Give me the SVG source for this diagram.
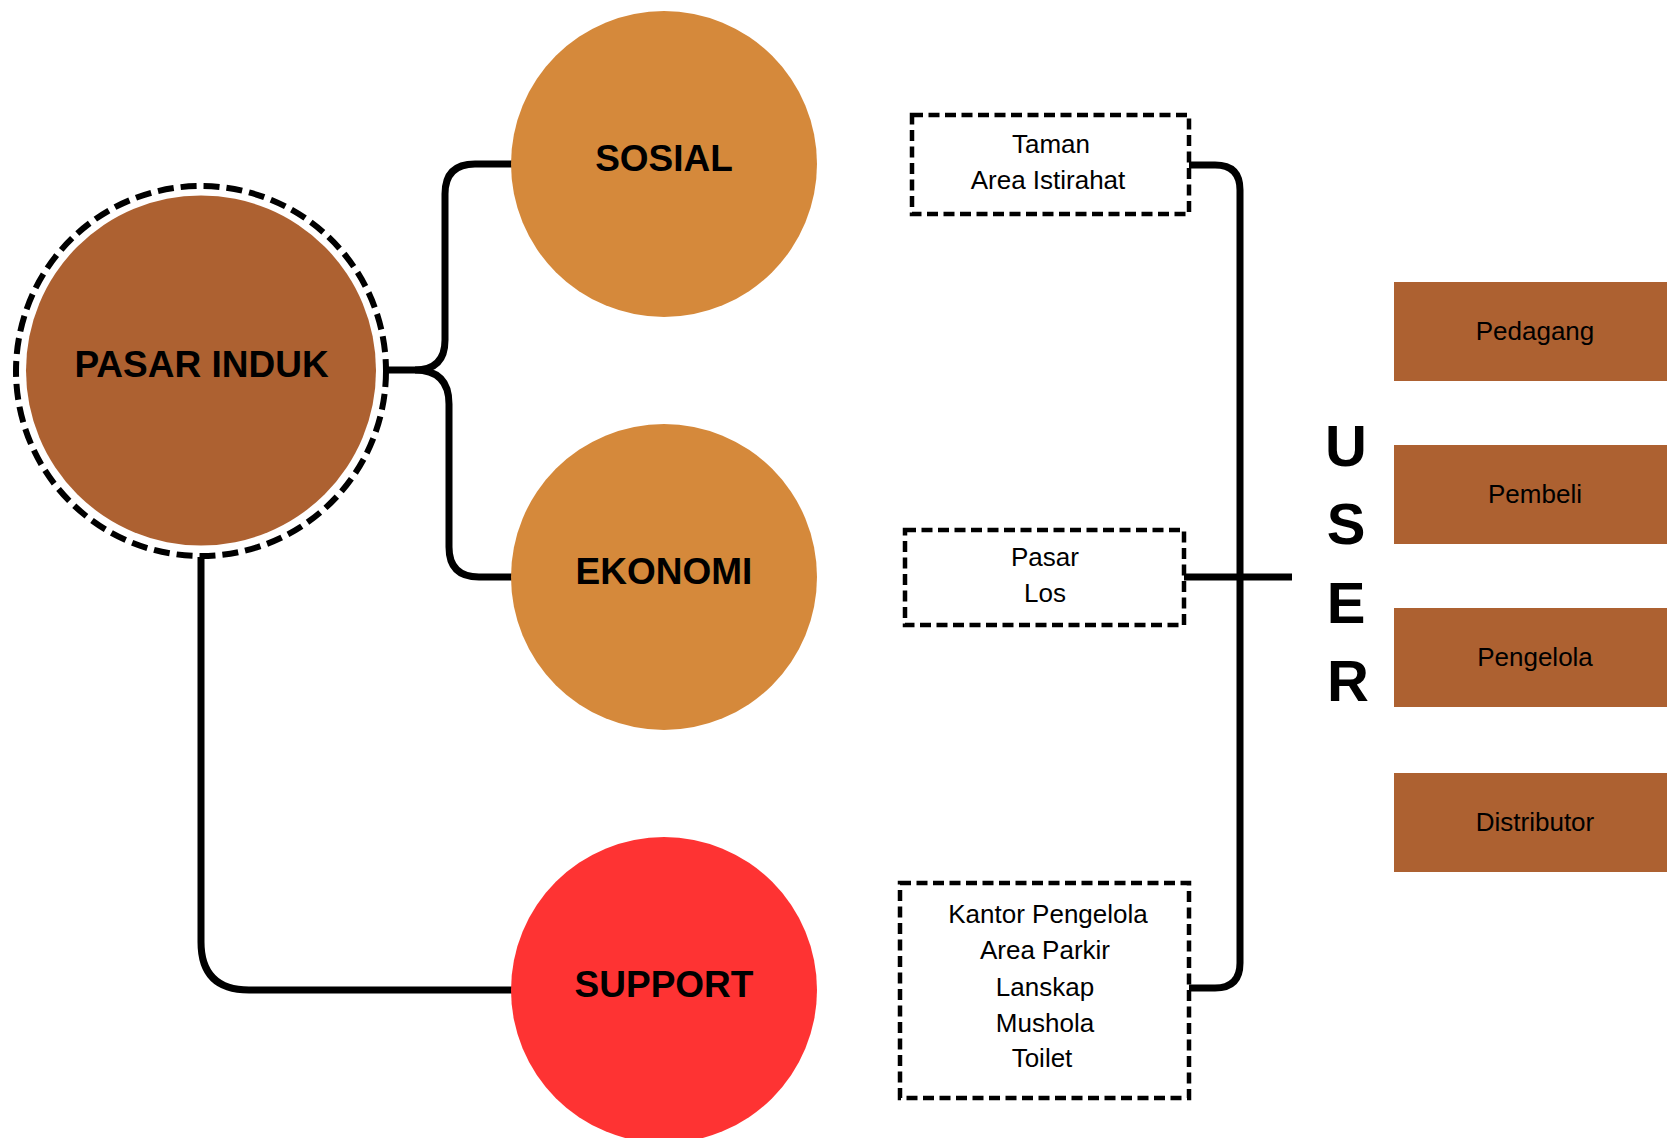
<svg xmlns="http://www.w3.org/2000/svg" width="1667" height="1138" viewBox="0 0 1667 1138">
<style>
.conn{fill:none;stroke:#000;stroke-width:7;stroke-linejoin:round}
.dbox{fill:#fff;stroke:#000;stroke-width:4.5;stroke-dasharray:11 5.5}
.lbl{font-family:"Liberation Sans",Arial,sans-serif;font-size:26px;fill:#000;text-anchor:middle}
.big{font-family:"Liberation Sans",Arial,sans-serif;font-size:37px;font-weight:bold;fill:#000;text-anchor:middle}
.user{font-family:"Liberation Sans",Arial,sans-serif;font-size:58px;font-weight:bold;fill:#000;text-anchor:middle}
.brown{fill:#ad6131}
.orange{fill:#d5893b}
</style>
<rect width="1667" height="1138" fill="#fff"/>
<g id="connectors">
<path class="conn" d="M388,370 H415 Q445,370 445,340 V194 Q445,164 475,164 H515"/>
<path class="conn" d="M415,370 Q449,370 449,404 V547 Q449,577 479,577 H515"/>
<path class="conn" d="M201,557 V942 Q201,990 249,990 H515"/>
<path class="conn" d="M1189,165 H1215 Q1240,165 1240,190 V963 Q1240,988 1215,988 H1189"/>
<path class="conn" d="M1184,577 H1292"/>
</g>
<g id="pasar-induk">
<circle cx="201" cy="371" r="185" fill="#fff" stroke="#000" stroke-width="6" stroke-dasharray="16 7"/>
<circle class="brown" cx="201" cy="370.5" r="175"/>
<text class="big" x="201.5" y="377">PASAR INDUK</text>
</g>
<g id="sosial">
<circle class="orange" cx="664" cy="164" r="153"/>
<text class="big" x="664" y="171">SOSIAL</text>
</g>
<g id="ekonomi">
<circle class="orange" cx="664" cy="577" r="153"/>
<text class="big" x="664" y="584">EKONOMI</text>
</g>
<g id="support">
<circle cx="664" cy="990" r="153" fill="#fe3333"/>
<text class="big" x="664" y="997">SUPPORT</text>
</g>
<g id="box-sosial">
<rect class="dbox" x="912" y="115" width="277" height="99"/>
<text class="lbl" x="1051" y="153">Taman</text>
<text class="lbl" x="1048" y="189">Area Istirahat</text>
</g>
<g id="box-ekonomi">
<rect class="dbox" x="905" y="530" width="279" height="95"/>
<text class="lbl" x="1045" y="566">Pasar</text>
<text class="lbl" x="1045" y="602">Los</text>
</g>
<g id="box-support">
<rect class="dbox" x="900" y="883" width="289" height="215"/>
<text class="lbl" x="1048" y="923">Kantor Pengelola</text>
<text class="lbl" x="1045" y="959">Area Parkir</text>
<text class="lbl" x="1045" y="996">Lanskap</text>
<text class="lbl" x="1045" y="1032">Mushola</text>
<text class="lbl" x="1042" y="1067">Toilet</text>
</g>
<g id="user-label">
<text class="user" x="1346" y="466">U</text>
<text class="user" x="1346" y="544">S</text>
<text class="user" x="1346" y="623">E</text>
<text class="user" x="1348" y="701">R</text>
</g>
<g id="pedagang">
<rect class="brown" x="1394" y="282" width="273" height="99"/>
<text class="lbl" x="1535" y="340">Pedagang</text>
</g>
<g id="pembeli">
<rect class="brown" x="1394" y="445" width="273" height="99"/>
<text class="lbl" x="1535" y="503">Pembeli</text>
</g>
<g id="pengelola">
<rect class="brown" x="1394" y="608" width="273" height="99"/>
<text class="lbl" x="1535" y="666">Pengelola</text>
</g>
<g id="distributor">
<rect class="brown" x="1394" y="773" width="273" height="99"/>
<text class="lbl" x="1535" y="831">Distributor</text>
</g>
</svg>
